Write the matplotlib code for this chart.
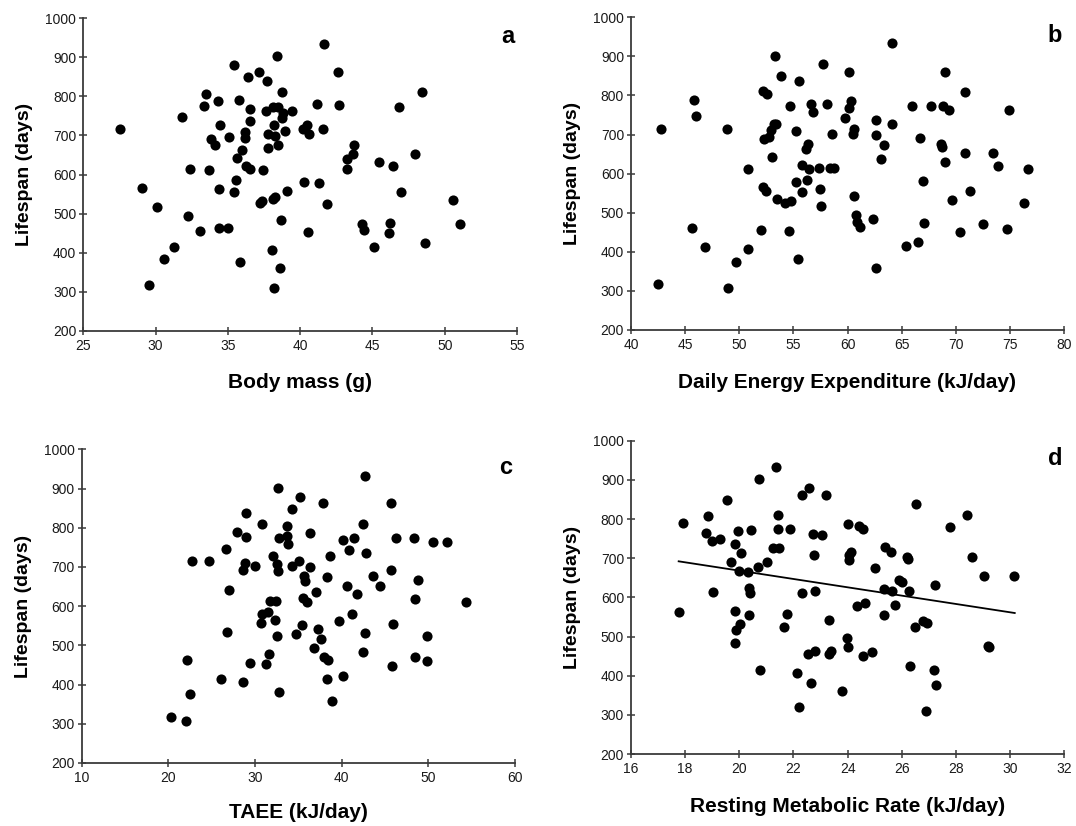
import matplotlib
matplotlib.use("Agg")
import matplotlib.pyplot as plt

plt.rcParams['font.family'] = ['Liberation Sans', 'DejaVu Sans']

# ---- Panel a: Body mass (g) vs Lifespan (days)
mass_x = [27.54, 29.04, 29.54, 30.12, 30.60, 31.30, 31.80, 32.26, 32.38, 33.07,
          33.35, 33.49, 33.69, 33.83, 34.11, 34.29, 34.39, 34.41, 34.48, 35.03,
          35.08, 35.42, 35.44, 35.54, 35.61, 35.75, 35.86, 35.98, 36.16, 36.19,
          36.25, 36.42, 36.51, 36.53, 36.55, 37.13, 37.22, 37.34, 37.43, 37.66,
          37.71, 37.75, 37.78, 38.03, 38.10, 38.15, 38.19, 38.19, 38.26, 38.26,
          38.42, 38.49, 38.47, 38.63, 38.70, 38.75, 38.77, 38.84, 38.95, 39.07,
          39.41, 40.18, 40.29, 40.45, 40.52, 40.59, 41.14, 41.28, 41.61, 41.65,
          41.88, 42.60, 42.67, 43.22, 43.27, 43.68, 43.73, 44.28, 44.40, 45.09,
          45.44, 46.13, 46.24, 46.45, 46.86, 46.98, 47.95, 48.43, 48.66, 50.55,
          51.04]
mass_y = [716, 566, 318, 517, 383, 415, 748, 495, 614, 456,
          775, 807, 612, 690, 675, 788, 562, 464, 728, 464,
          695, 554, 880, 586, 643, 791, 376, 664, 709, 693,
          622, 850, 769, 738, 615, 862, 527, 532, 611, 763,
          840, 703, 669, 407, 774, 537, 727, 309, 543, 699,
          903, 774, 676, 360, 483, 811, 745, 758, 711, 558,
          763, 717, 581, 728, 454, 703, 780, 579, 716, 933,
          525, 862, 778, 615, 639, 652, 675, 473, 459, 415,
          632, 450, 477, 621, 774, 556, 653, 811, 425, 534,
          474]

# ---- Panel b: Daily Energy Expenditure (kJ/day) vs Lifespan
dee_x = [42.52, 42.77, 45.60, 45.85, 45.97, 46.80, 48.84, 48.99, 49.70, 50.78,
         50.78, 52.01, 52.16, 52.22, 52.47, 52.59, 52.32, 52.72, 52.90, 53.00,
         53.24, 53.33, 53.39, 53.45, 53.85, 54.19, 54.65, 54.59, 54.78, 55.21,
         55.24, 55.46, 55.55, 55.79, 55.83, 56.13, 56.23, 56.35, 56.44, 56.66,
         56.84, 57.39, 57.46, 57.52, 57.76, 58.13, 58.38, 58.60, 58.72, 59.80,
         60.10, 60.17, 60.35, 60.47, 60.57, 60.60, 60.78, 60.88, 61.18, 62.32,
         62.63, 62.63, 62.66, 63.40, 63.06, 64.08, 64.08, 65.43, 65.92, 66.51,
         66.69, 67.00, 67.06, 67.68, 68.63, 68.69, 68.79, 68.97, 68.97, 69.37,
         69.65, 70.42, 70.82, 70.85, 71.28, 72.54, 73.44, 73.87, 74.70, 74.88,
         76.30, 76.70]
dee_y = [318, 714, 462, 789, 748, 413, 715, 308, 375, 613,
         406, 455, 565, 812, 556, 805, 688, 695, 711, 642,
         727, 901, 726, 535, 849, 524, 773, 453, 529, 579,
         708, 382, 837, 553, 621, 663, 585, 676, 611, 777,
         758, 615, 561, 516, 880, 779, 615, 702, 615, 742,
         768, 861, 787, 702, 715, 542, 495, 477, 464, 483,
         700, 737, 359, 673, 637, 933, 726, 415, 772, 424,
         691, 580, 473, 773, 675, 667, 773, 861, 631, 762,
         533, 450, 652, 809, 556, 472, 652, 620, 459, 762,
         525, 611]

# ---- Panel c: TAEE (kJ/day) vs Lifespan
taee_x = [20.31, 22.08, 22.46, 22.20, 22.73, 24.73, 26.08, 26.69, 26.73, 27.04,
          27.92, 28.65, 28.65, 28.81, 28.92, 29.00, 29.46, 29.96, 30.69, 30.81,
          30.81, 31.27, 31.54, 31.65, 31.77, 32.04, 32.35, 32.46, 32.50, 32.62,
          32.62, 32.58, 32.73, 32.81, 33.69, 33.69, 33.81, 34.27, 34.27, 34.73,
          35.04, 35.15, 35.42, 35.50, 35.65, 35.80, 36.03, 36.34, 36.34, 36.84,
          36.99, 37.26, 37.61, 37.88, 37.92, 38.27, 38.34, 38.46, 38.65, 38.84,
          39.65, 40.15, 40.19, 40.61, 40.80, 41.22, 41.42, 41.72, 42.42, 42.46,
          42.69, 42.73, 42.81, 43.65, 44.38, 45.65, 45.69, 45.84, 45.96, 46.26,
          48.38, 48.49, 48.49, 48.76, 49.80, 49.80, 50.57, 52.11, 54.34]
taee_y = [318, 308, 375, 462, 715, 715, 413, 747, 535, 641,
          790, 693, 406, 711, 777, 837, 454, 702, 557, 579,
          810, 452, 585, 477, 613, 727, 565, 613, 708, 902,
          689, 524, 775, 380, 805, 780, 758, 702, 848, 529,
          716, 879, 553, 622, 677, 663, 611, 787, 699, 494,
          636, 541, 515, 862, 471, 414, 674, 463, 727, 359,
          561, 769, 423, 652, 743, 580, 774, 631, 810, 482,
          933, 531, 736, 676, 652, 691, 862, 448, 555, 775,
          773, 617, 471, 667, 524, 459, 763, 763, 611]

# ---- Panel d: Resting Metabolic Rate (kJ/day) vs Lifespan
rmr_x = [17.77, 17.92, 18.76, 18.86, 19.00, 19.03, 19.29, 19.56, 19.70, 19.85,
         19.85, 19.84, 19.89, 19.95, 19.98, 20.01, 20.05, 20.32, 20.34, 20.36,
         20.41, 20.44, 20.68, 20.73, 20.75, 21.03, 21.26, 21.34, 21.44, 21.42,
         21.48, 21.66, 21.77, 21.86, 22.13, 22.22, 22.30, 22.31, 22.52, 22.58,
         22.65, 22.73, 22.77, 22.78, 22.78, 23.06, 23.21, 23.31, 23.32, 23.38,
         23.79, 23.98, 24.00, 24.01, 24.06, 24.11, 24.06, 24.33, 24.41, 24.55,
         24.55, 24.65, 24.91, 25.00, 25.33, 25.34, 25.38, 25.59, 25.65, 25.75,
         25.91, 26.01, 26.20, 26.22, 26.25, 26.30, 26.50, 26.54, 26.78, 26.92,
         26.90, 27.18, 27.23, 27.25, 27.78, 28.39, 28.59, 29.03, 29.18, 29.21,
         30.15]
rmr_y = [562, 791, 764, 807, 744, 614, 748, 849, 690, 737,
         566, 483, 516, 769, 667, 531, 714, 664, 624, 555,
         611, 773, 678, 902, 415, 691, 727, 933, 811, 775,
         727, 525, 557, 775, 407, 319, 862, 612, 456, 880,
         382, 763, 708, 615, 464, 760, 862, 543, 455, 464,
         360, 495, 472, 788, 708, 717, 696, 579, 782, 774,
         450, 586, 460, 676, 556, 621, 728, 715, 615, 581,
         644, 638, 702, 699, 615, 425, 524, 838, 539, 534,
         309, 415, 632, 376, 779, 810, 703, 654, 476, 472,
         654]
# regression line endpoints for panel d
trend_x = [17.76, 30.17]
trend_y = [692, 560]

y_ticks = [200, 300, 400, 500, 600, 700, 800, 900, 1000]

panels = [
    dict(x=mass_x, y=mass_y, xlim=(25, 55), xticks=[25, 30, 35, 40, 45, 50, 55],
         xlabel="Body mass (g)", letter="a",
         rect=[83.3, 18.3, 517.0, 330.7], xlabpad=-0.135),
    dict(x=dee_x, y=dee_y, xlim=(40, 80), xticks=[40, 45, 50, 55, 60, 65, 70, 75, 80],
         xlabel="Daily Energy Expenditure (kJ/day)", letter="b",
         rect=[631.0, 17.3, 1064.0, 330.0], xlabpad=-0.137),
    dict(x=taee_x, y=taee_y, xlim=(10, 60), xticks=[10, 20, 30, 40, 50, 60],
         xlabel="TAEE (kJ/day)", letter="c",
         rect=[81.6, 449.3, 515.0, 763.0], xlabpad=-0.128),
    dict(x=rmr_x, y=rmr_y, xlim=(16, 32), xticks=[16, 18, 20, 22, 24, 26, 28, 30, 32],
         xlabel="Resting Metabolic Rate (kJ/day)", letter="d",
         rect=[631.0, 440.7, 1064.3, 754.0], xlabpad=-0.137),
]

W, H = 1076, 826
fig = plt.figure(figsize=(W / 100, H / 100), dpi=100)
axis_col = "#3a3a3a"

for i, p in enumerate(panels):
    l, t, r, b = p["rect"]
    ax = fig.add_axes([l / W, 1 - b / H, (r - l) / W, (b - t) / H])
    ax.plot(p["x"], p["y"], 'o', color='black', markersize=7.3,
            markeredgewidth=0, clip_on=False)
    if i == 3:
        ax.plot(trend_x, trend_y, '-', color='black', linewidth=1.3)
    ax.set_xlim(*p["xlim"])
    ax.set_ylim(200, 1000)
    ax.set_xticks(p["xticks"])
    ax.set_yticks(y_ticks)
    for s in ("top", "right"):
        ax.spines[s].set_visible(False)
    for s in ("left", "bottom"):
        ax.spines[s].set_color(axis_col)
        ax.spines[s].set_linewidth(1.3)
    ax.tick_params(axis='both', direction='inout', length=6, width=1.1,
                   color=axis_col, labelsize=10, labelcolor='#1a1a1a')
    ax.tick_params(axis='y', pad=2)
    ax.tick_params(axis='x', pad=3)
    ax.set_xlabel(p["xlabel"], fontsize=15, fontweight='bold')
    ax.xaxis.set_label_coords(0.5, p["xlabpad"])
    ax.set_ylabel("Lifespan (days)", fontsize=14, fontweight='bold')
    ax.yaxis.set_label_coords(-0.115, 0.5)
    ax.text(0.979, 0.943, p["letter"], transform=ax.transAxes,
            fontsize=17, fontweight='bold', ha='center', va='center')

fig.savefig("out.png", dpi=100)
